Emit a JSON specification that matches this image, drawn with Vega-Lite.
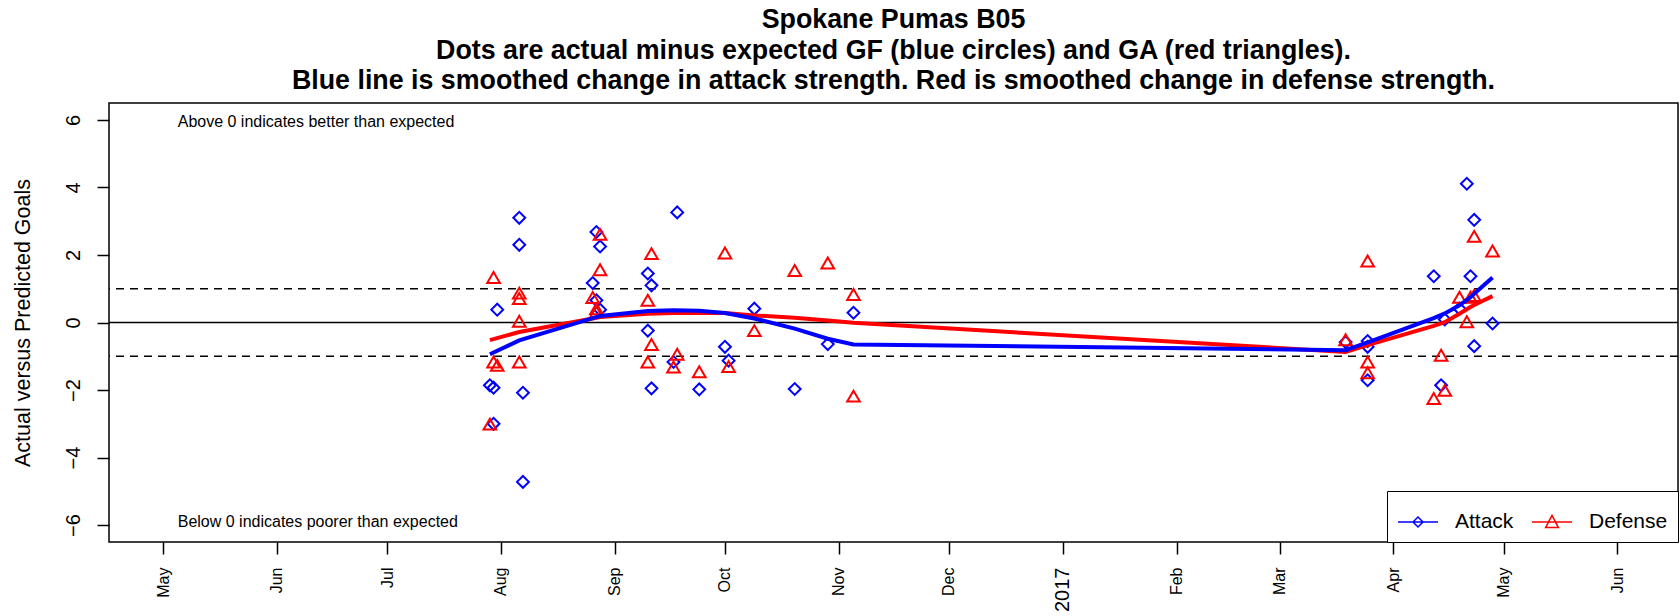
{
  "$schema": "https://vega.github.io/schema/vega-lite/v6.json",
  "width": 1569,
  "height": 439,
  "autosize": {"type": "none"},
  "padding": {"left": 109, "top": 103, "right": 2, "bottom": 74},
  "background": "white",
  "title": {
    "text": ["Spokane Pumas B05", "Dots are actual minus expected GF (blue circles) and GA (red triangles).", "Blue line is smoothed change in attack strength. Red is smoothed change in defense strength."],
    "fontSize": 26.8,
    "font": "Liberation Sans",
    "fontWeight": "bold",
    "anchor": "middle",
    "frame": "group",
    "offset": 8,
    "lineHeight": 30.5,
    "color": "black"
  },
  "config": {
    "font": "Liberation Sans",
    "view": {"stroke": "black", "strokeWidth": 1.5},
    "axis": {"domain": false, "grid": false, "tickColor": "black", "tickWidth": 1.5, "labelColor": "black", "titleColor": "black"},
    "legend": {
      "orient": "bottom-right",
      "offset": 0,
      "direction": "horizontal",
      "strokeColor": "black",
      "fillColor": "white",
      "padding": 10,
      "labelFontSize": 21,
      "labelColor": "black",
      "labelOffset": 16,
      "columnPadding": 15,
      "symbolSize": 1600,
      "symbolStrokeWidth": 1.5,
      "symbolOpacity": 1,
      "symbolFillColor": "transparent"
    }
  },
  "datasets": {
    "pts": [
      {"date": "2016-07-29", "value": -1.86, "series": "Attack"},
      {"date": "2016-07-30", "value": -1.93, "series": "Attack"},
      {"date": "2016-07-30", "value": -3.0, "series": "Attack"},
      {"date": "2016-07-31", "value": 0.38, "series": "Attack"},
      {"date": "2016-08-06", "value": 3.1, "series": "Attack"},
      {"date": "2016-08-06", "value": 2.3, "series": "Attack"},
      {"date": "2016-08-07", "value": -2.08, "series": "Attack"},
      {"date": "2016-08-07", "value": -4.72, "series": "Attack"},
      {"date": "2016-08-26", "value": 1.17, "series": "Attack"},
      {"date": "2016-08-27", "value": 2.68, "series": "Attack"},
      {"date": "2016-08-27", "value": 0.66, "series": "Attack"},
      {"date": "2016-08-28", "value": 2.25, "series": "Attack"},
      {"date": "2016-08-28", "value": 0.38, "series": "Attack"},
      {"date": "2016-09-10", "value": 1.45, "series": "Attack"},
      {"date": "2016-09-10", "value": -0.24, "series": "Attack"},
      {"date": "2016-09-11", "value": 1.1, "series": "Attack"},
      {"date": "2016-09-11", "value": -1.95, "series": "Attack"},
      {"date": "2016-09-17", "value": -1.17, "series": "Attack"},
      {"date": "2016-09-18", "value": 3.26, "series": "Attack"},
      {"date": "2016-09-24", "value": -1.98, "series": "Attack"},
      {"date": "2016-10-01", "value": -0.72, "series": "Attack"},
      {"date": "2016-10-02", "value": -1.13, "series": "Attack"},
      {"date": "2016-10-09", "value": 0.41, "series": "Attack"},
      {"date": "2016-10-20", "value": -1.97, "series": "Attack"},
      {"date": "2016-10-29", "value": -0.64, "series": "Attack"},
      {"date": "2016-11-05", "value": 0.29, "series": "Attack"},
      {"date": "2017-03-19", "value": -0.58, "series": "Attack"},
      {"date": "2017-03-25", "value": -0.55, "series": "Attack"},
      {"date": "2017-03-25", "value": -0.72, "series": "Attack"},
      {"date": "2017-03-25", "value": -1.71, "series": "Attack"},
      {"date": "2017-04-12", "value": 1.37, "series": "Attack"},
      {"date": "2017-04-14", "value": -1.86, "series": "Attack"},
      {"date": "2017-04-15", "value": 0.09, "series": "Attack"},
      {"date": "2017-04-19", "value": 0.41, "series": "Attack"},
      {"date": "2017-04-21", "value": 4.11, "series": "Attack"},
      {"date": "2017-04-22", "value": 1.37, "series": "Attack"},
      {"date": "2017-04-23", "value": 3.04, "series": "Attack"},
      {"date": "2017-04-23", "value": -0.7, "series": "Attack"},
      {"date": "2017-04-28", "value": -0.03, "series": "Attack"},
      {"date": "2016-07-29", "value": -3.01, "series": "Defense"},
      {"date": "2016-07-30", "value": 1.33, "series": "Defense"},
      {"date": "2016-07-30", "value": -1.17, "series": "Defense"},
      {"date": "2016-07-31", "value": -1.27, "series": "Defense"},
      {"date": "2016-08-06", "value": 0.87, "series": "Defense"},
      {"date": "2016-08-06", "value": 0.71, "series": "Defense"},
      {"date": "2016-08-06", "value": 0.04, "series": "Defense"},
      {"date": "2016-08-06", "value": -1.17, "series": "Defense"},
      {"date": "2016-08-28", "value": 2.61, "series": "Defense"},
      {"date": "2016-08-28", "value": 1.56, "series": "Defense"},
      {"date": "2016-08-26", "value": 0.74, "series": "Defense"},
      {"date": "2016-08-27", "value": 0.41, "series": "Defense"},
      {"date": "2016-08-27", "value": 0.31, "series": "Defense"},
      {"date": "2016-09-11", "value": 2.04, "series": "Defense"},
      {"date": "2016-09-10", "value": 0.66, "series": "Defense"},
      {"date": "2016-09-11", "value": -0.65, "series": "Defense"},
      {"date": "2016-09-10", "value": -1.17, "series": "Defense"},
      {"date": "2016-09-18", "value": -0.94, "series": "Defense"},
      {"date": "2016-09-17", "value": -1.32, "series": "Defense"},
      {"date": "2016-09-24", "value": -1.46, "series": "Defense"},
      {"date": "2016-10-01", "value": 2.06, "series": "Defense"},
      {"date": "2016-10-02", "value": -1.3, "series": "Defense"},
      {"date": "2016-10-09", "value": -0.24, "series": "Defense"},
      {"date": "2016-10-20", "value": 1.54, "series": "Defense"},
      {"date": "2016-10-29", "value": 1.76, "series": "Defense"},
      {"date": "2016-11-05", "value": 0.83, "series": "Defense"},
      {"date": "2016-11-05", "value": -2.18, "series": "Defense"},
      {"date": "2017-03-19", "value": -0.51, "series": "Defense"},
      {"date": "2017-03-25", "value": 1.82, "series": "Defense"},
      {"date": "2017-03-25", "value": -1.17, "series": "Defense"},
      {"date": "2017-03-25", "value": -1.49, "series": "Defense"},
      {"date": "2017-04-12", "value": -2.25, "series": "Defense"},
      {"date": "2017-04-14", "value": -0.97, "series": "Defense"},
      {"date": "2017-04-15", "value": -2.01, "series": "Defense"},
      {"date": "2017-04-19", "value": 0.75, "series": "Defense"},
      {"date": "2017-04-21", "value": 0.02, "series": "Defense"},
      {"date": "2017-04-22", "value": 0.75, "series": "Defense"},
      {"date": "2017-04-23", "value": 2.55, "series": "Defense"},
      {"date": "2017-04-23", "value": 0.8, "series": "Defense"},
      {"date": "2017-04-28", "value": 2.12, "series": "Defense"}
    ],
    "smooth": [
      {"date": "2016-07-29", "value": -0.52, "series": "Defense"},
      {"date": "2016-08-06", "value": -0.28, "series": "Defense"},
      {"date": "2016-08-26", "value": 0.12, "series": "Defense"},
      {"date": "2016-08-28", "value": 0.16, "series": "Defense"},
      {"date": "2016-09-10", "value": 0.26, "series": "Defense"},
      {"date": "2016-09-17", "value": 0.28, "series": "Defense"},
      {"date": "2016-09-24", "value": 0.29, "series": "Defense"},
      {"date": "2016-10-01", "value": 0.28, "series": "Defense"},
      {"date": "2016-10-09", "value": 0.21, "series": "Defense"},
      {"date": "2016-10-20", "value": 0.14, "series": "Defense"},
      {"date": "2016-10-29", "value": 0.06, "series": "Defense"},
      {"date": "2016-11-05", "value": -0.01, "series": "Defense"},
      {"date": "2017-03-19", "value": -0.87, "series": "Defense"},
      {"date": "2017-03-25", "value": -0.67, "series": "Defense"},
      {"date": "2017-04-12", "value": -0.1, "series": "Defense"},
      {"date": "2017-04-15", "value": 0.01, "series": "Defense"},
      {"date": "2017-04-19", "value": 0.26, "series": "Defense"},
      {"date": "2017-04-22", "value": 0.46, "series": "Defense"},
      {"date": "2017-04-23", "value": 0.52, "series": "Defense"},
      {"date": "2017-04-28", "value": 0.78, "series": "Defense"},
      {"date": "2016-07-29", "value": -0.94, "series": "Attack"},
      {"date": "2016-08-06", "value": -0.53, "series": "Attack"},
      {"date": "2016-08-26", "value": 0.13, "series": "Attack"},
      {"date": "2016-08-28", "value": 0.19, "series": "Attack"},
      {"date": "2016-09-10", "value": 0.34, "series": "Attack"},
      {"date": "2016-09-17", "value": 0.36, "series": "Attack"},
      {"date": "2016-09-24", "value": 0.35, "series": "Attack"},
      {"date": "2016-10-01", "value": 0.28, "series": "Attack"},
      {"date": "2016-10-09", "value": 0.12, "series": "Attack"},
      {"date": "2016-10-20", "value": -0.18, "series": "Attack"},
      {"date": "2016-10-29", "value": -0.48, "series": "Attack"},
      {"date": "2016-11-05", "value": -0.65, "series": "Attack"},
      {"date": "2017-03-19", "value": -0.82, "series": "Attack"},
      {"date": "2017-03-25", "value": -0.59, "series": "Attack"},
      {"date": "2017-04-12", "value": 0.13, "series": "Attack"},
      {"date": "2017-04-15", "value": 0.27, "series": "Attack"},
      {"date": "2017-04-19", "value": 0.51, "series": "Attack"},
      {"date": "2017-04-22", "value": 0.75, "series": "Attack"},
      {"date": "2017-04-23", "value": 0.85, "series": "Attack"},
      {"date": "2017-04-28", "value": 1.33, "series": "Attack"}
    ],
    "refs": [
      {"y": 0, "kind": "solid"},
      {"y": 1, "kind": "dashed"},
      {"y": -1, "kind": "dashed"}
    ],
    "notes": [
      {"date": "2016-05-05", "value": 5.95, "label": "Above 0 indicates better than expected"},
      {"date": "2016-05-05", "value": -5.9, "label": "Below 0 indicates poorer than expected"}
    ]
  },
  "encoding": {
    "x": {
      "field": "date",
      "type": "temporal",
      "scale": {
        "type": "utc",
        "domain": [
          {"year": 2016, "month": 4, "date": 16, "hours": 7, "utc": true},
          {"year": 2017, "month": 6, "date": 17, "hours": 12, "utc": true}
        ]
      },
      "axis": {
        "title": null,
        "values": [
          {"year": 2016, "month": 5, "date": 1, "utc": true},
          {"year": 2016, "month": 6, "date": 1, "utc": true},
          {"year": 2016, "month": 7, "date": 1, "utc": true},
          {"year": 2016, "month": 8, "date": 1, "utc": true},
          {"year": 2016, "month": 9, "date": 1, "utc": true},
          {"year": 2016, "month": 10, "date": 1, "utc": true},
          {"year": 2016, "month": 11, "date": 1, "utc": true},
          {"year": 2016, "month": 12, "date": 1, "utc": true},
          {"year": 2017, "month": 1, "date": 1, "utc": true},
          {"year": 2017, "month": 2, "date": 1, "utc": true},
          {"year": 2017, "month": 3, "date": 1, "utc": true},
          {"year": 2017, "month": 4, "date": 1, "utc": true},
          {"year": 2017, "month": 5, "date": 1, "utc": true},
          {"year": 2017, "month": 6, "date": 1, "utc": true}
        ],
        "labelExpr": "utcmonth(datum.value) === 0 ? utcFormat(datum.value, '%Y') : utcFormat(datum.value, '%b')",
        "labelAngle": 270,
        "labelAlign": "right",
        "labelBaseline": "middle",
        "labelPadding": 13,
        "tickSize": 12,
        "labelFontSize": {"condition": {"test": "utcmonth(datum.value) === 0", "value": 20}, "value": 16},
        "labelOverlap": false,
        "labelFlush": false,
        "labelBound": false
      }
    },
    "y": {
      "field": "value",
      "type": "quantitative",
      "scale": {"domain": [-6.5, 6.5], "nice": false, "zero": false},
      "axis": {
        "title": "Actual versus Predicted Goals",
        "values": [-6, -4, -2, 0, 2, 4, 6],
        "labelAngle": 270,
        "labelAlign": "center",
        "labelBaseline": "alphabetic",
        "labelPadding": 18,
        "tickSize": 12,
        "labelFontSize": 20,
        "titleFontSize": 21.5,
        "titleFontWeight": "normal",
        "titleAngle": 270,
        "titleX": -80,
        "titleY": 219.5,
        "titleAlign": "center",
        "titleBaseline": "alphabetic"
      }
    }
  },
  "layer": [
    {
      "data": {"name": "refs"},
      "mark": {"type": "rule", "color": "black", "strokeWidth": 1.5},
      "encoding": {
        "x": null,
        "y": {"field": "y", "type": "quantitative"},
        "strokeDash": {"field": "kind", "type": "nominal", "scale": {"domain": ["solid", "dashed"], "range": [[1, 0], [8, 6]]}, "legend": null}
      }
    },
    {
      "data": {"name": "notes"},
      "mark": {"type": "text", "align": "left", "baseline": "middle", "fontSize": 16, "color": "black"},
      "encoding": {"text": {"field": "label"}}
    },
    {
      "data": {"name": "smooth"},
      "mark": {"type": "point", "filled": false, "opacity": 0},
      "encoding": {
        "color": {
          "field": "series",
          "type": "nominal",
          "scale": {"domain": ["Attack", "Defense"], "range": ["#0000ff", "#ff0000"]},
          "legend": {"title": null}
        },
        "shape": {
          "field": "series",
          "type": "nominal",
          "scale": {"domain": ["Attack", "Defense"], "range": ["M-1,0L1,0M-0.25,0L0,-0.25L0.25,0L0,0.25Z", "M-1,0L1,0M0,-0.33L0.32,0.28L-0.32,0.28Z"]},
          "legend": {"title": null}
        }
      }
    },
    {
      "data": {"name": "pts"},
      "transform": [{"filter": "datum.series === 'Attack'"}],
      "mark": {"type": "point", "shape": "diamond", "filled": false, "size": 140, "strokeWidth": 2, "opacity": 1},
      "encoding": {"color": {"field": "series", "type": "nominal", "legend": {"title": null}}}
    },
    {
      "data": {"name": "pts"},
      "transform": [{"filter": "datum.series === 'Defense'"}],
      "mark": {"type": "point", "shape": "triangle-up", "filled": false, "size": 160, "strokeWidth": 2, "opacity": 1},
      "encoding": {"color": {"field": "series", "type": "nominal", "legend": {"title": null}}}
    },
    {
      "data": {"name": "smooth"},
      "transform": [{"filter": "datum.series === 'Defense'"}],
      "mark": {"type": "line", "strokeWidth": 4},
      "encoding": {"color": {"field": "series", "type": "nominal", "legend": {"title": null}}}
    },
    {
      "data": {"name": "smooth"},
      "transform": [{"filter": "datum.series === 'Attack'"}],
      "mark": {"type": "line", "strokeWidth": 4},
      "encoding": {"color": {"field": "series", "type": "nominal", "legend": {"title": null}}}
    }
  ]
}
